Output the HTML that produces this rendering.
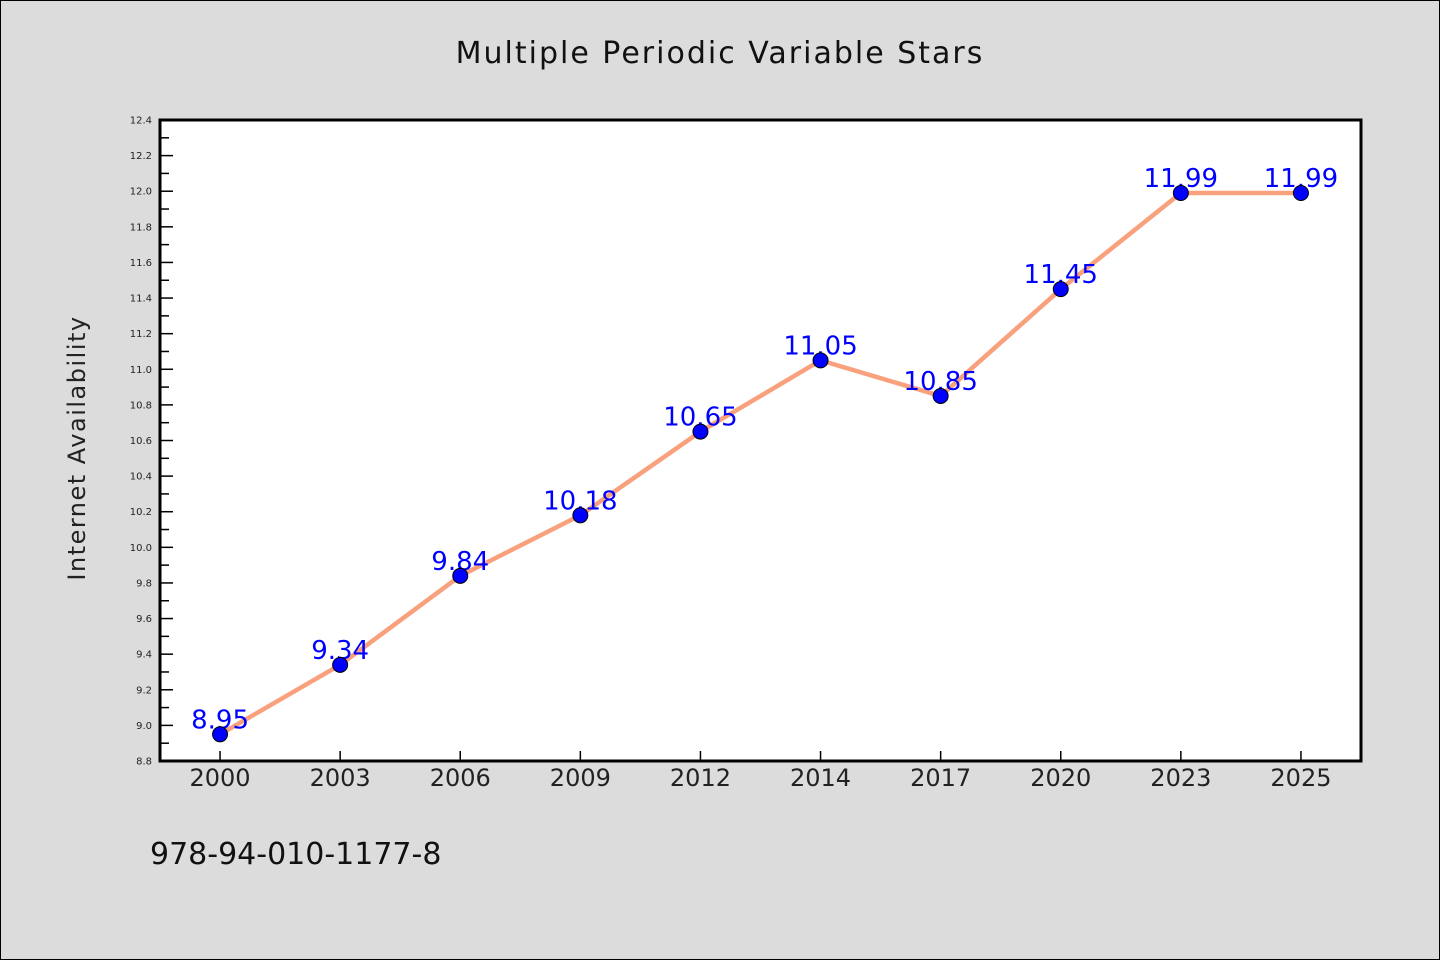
<!DOCTYPE html>
<html><head><meta charset="utf-8"><style>
html,body{margin:0;padding:0;background:#dcdcdc}
svg{display:block}
text{font-family:"DejaVu Sans","Liberation Sans",sans-serif}
</style></head><body>
<svg width="1440" height="960" xmlns="http://www.w3.org/2000/svg">
<rect x="0.5" y="0.5" width="1439" height="959" fill="#dcdcdc" stroke="#000" stroke-width="1"/>
<text x="720" y="63" text-anchor="middle" font-size="30" fill="#111" letter-spacing="2">Multiple Periodic Variable Stars</text>
<rect x="160" y="120" width="1201" height="641" fill="#fff"/>
<g id="yaxis"></g>
<g id="xaxis"></g>
<g id="series"></g>
<rect x="160" y="120" width="1201" height="641" fill="none" stroke="#000" stroke-width="3"/>
<text transform="translate(85,448) rotate(-90)" text-anchor="middle" font-size="24" fill="#222" letter-spacing="1.5">Internet Availability</text>
<text x="150" y="864" font-size="30" fill="#111">978-94-010-1177-8</text>
</svg>
<script>
const categories=["2000","2003","2006","2009","2012","2014","2017","2020","2023","2025"];
const values=[8.95,9.34,9.84,10.18,10.65,11.05,10.85,11.45,11.99,11.99];
const valueLabels=["8.95","9.34","9.84","10.18","10.65","11.05","10.85","11.45","11.99","11.99"];
const yTicks=[8.8,9.0,9.2,9.4,9.6,9.8,10.0,10.2,10.4,10.6,10.8,11.0,11.2,11.4,11.6,11.8,12.0,12.2,12.4];
const NS="http://www.w3.org/2000/svg";
const L=160,R=1361,T=120,B=761,yMin=8.8,yMax=12.4;
const band=(R-L)/categories.length;
function xs(i){return L+band*(i+0.5);}
function ys(v){return B-(v-yMin)/(yMax-yMin)*(B-T);}
function mk(tag,attrs,parent){const e=document.createElementNS(NS,tag);for(const k in attrs)e.setAttribute(k,attrs[k]);parent.appendChild(e);return e;}
const ya=document.getElementById('yaxis'),xa=document.getElementById('xaxis'),sg=document.getElementById('series');
yTicks.forEach((v,i)=>{
  const y=ys(v);
  const t=mk('line',{x1:L,x2:L+13,y1:y,y2:y,stroke:'#000','stroke-width':1.5},ya);
  
  
  const lb=mk('text',{x:L-8,y:y+3.5,'text-anchor':'end','font-size':10,fill:'#222'},ya);
  lb.textContent=v.toFixed(1);
  
  
  if(i<yTicks.length-1){
    const ym=ys(v+0.1);
    const m=mk('line',{x1:L,x2:L+9,y1:ym,y2:ym,stroke:'#000','stroke-width':1.5},ya);
    
    
  }
});
categories.forEach((c,i)=>{
  const x=xs(i);
  const t=mk('line',{x1:x,x2:x,y1:B,y2:B-10,stroke:'#000','stroke-width':1.5},xa);
  
  
  const lb=mk('text',{x:x,y:B+25,'text-anchor':'middle','font-size':24,fill:'#222'},xa);
  lb.textContent=c;
  
  
});
const pts=values.map((v,i)=>xs(i)+','+ys(v)).join(' ');
const pl=mk('polyline',{points:pts,fill:'none',stroke:'#f9a07d','stroke-width':4.5,'stroke-linejoin':'round'},sg);


values.forEach((v,i)=>{
  const lb=mk('text',{x:xs(i),y:ys(v)+(-6),'text-anchor':'middle','font-size':26,fill:'#0000ff'},sg);
  lb.textContent=valueLabels[i];
  
  
});
values.forEach((v,i)=>{
  const c=mk('circle',{cx:xs(i),cy:ys(v),r:7.5,fill:'#0000ff',stroke:'#000','stroke-width':1},sg);
  
  
});
</script>
</body></html>
